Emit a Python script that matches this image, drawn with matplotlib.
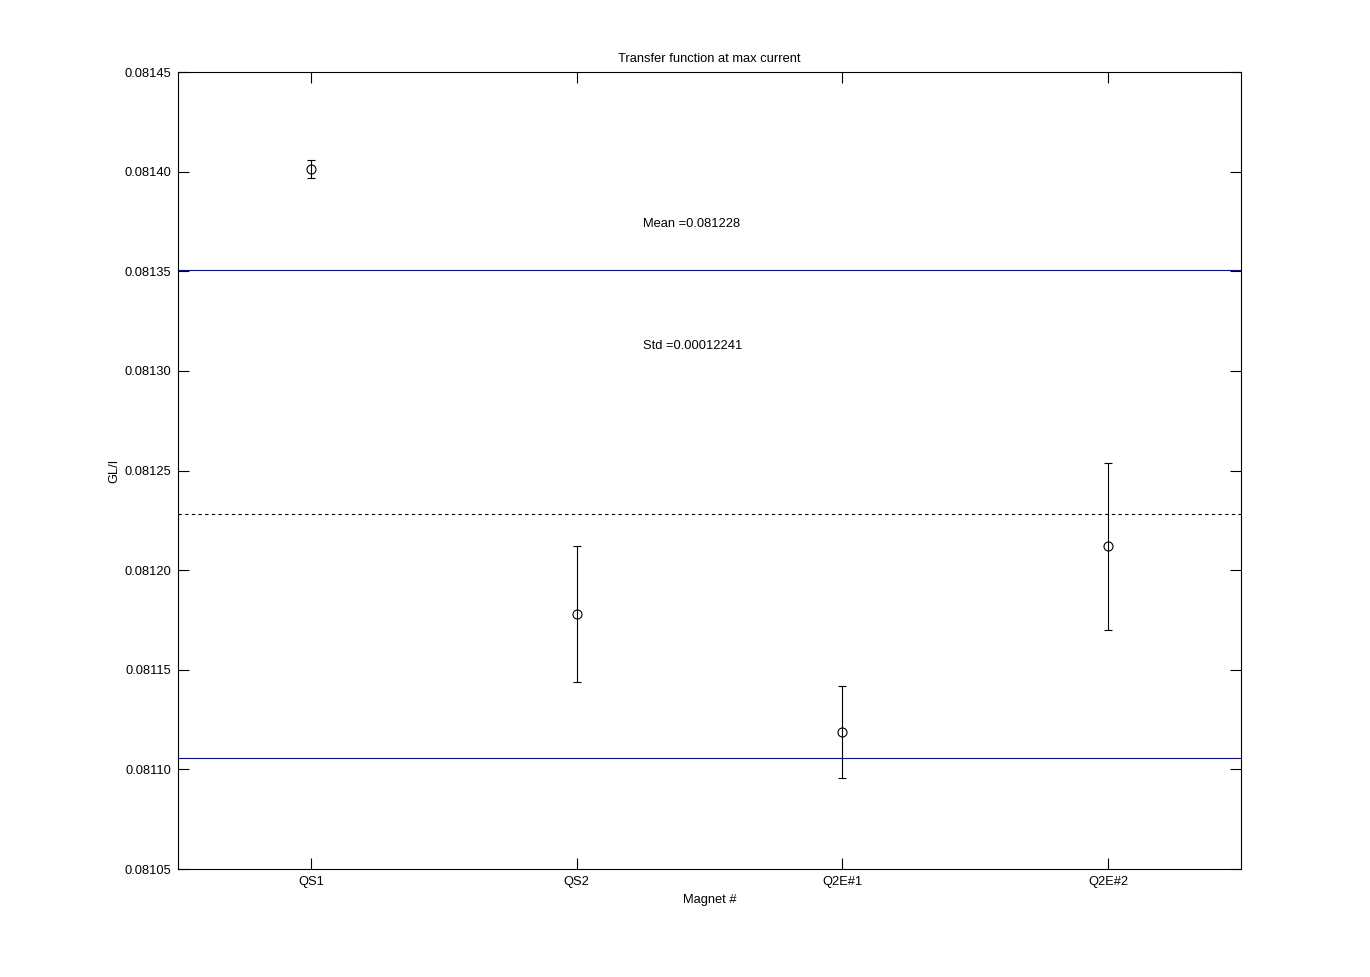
import numpy as np
from matplotlib import pyplot as plt

# Magnet data
magnets = ['QS1', 'QS2', 'Q2E#1', 'Q2E#2']
tf_values = [0.0814013, 0.0811780, 0.0811188, 0.0812121]
tf_errors = [0.0000043, 0.0000340, 0.0000233, 0.0000419]

mean_tf = 0.081228
std_tf = 0.00012241

plt.rcParams['font.family'] = ['Liberation Sans', 'DejaVu Sans']

fig = plt.figure(dpi=100, figsize=(13.7, 9.77))
ax = fig.add_axes([0.13, 0.1105, 0.7758, 0.8158])

x = np.arange(1, len(magnets) + 1)
ax.errorbar(x, tf_values, yerr=tf_errors, fmt='o', color='black', mfc='none',
            markersize=6.5, elinewidth=0.8, capsize=3, capthick=0.8, mew=0.8)

ax.axhline(mean_tf, color='black', linestyle=(0, (3, 3)), linewidth=0.8)
ax.axhline(mean_tf + std_tf, color='#0000dd', linewidth=0.8)
ax.axhline(mean_tf - std_tf, color='#0000dd', linewidth=0.8)

ax.text(2.25, 0.0813735, 'Mean =' + str(mean_tf), fontsize=9.3, va='center')
ax.text(2.25, 0.0813123, 'Std =' + str(std_tf), fontsize=9.3, va='center')

# Format plot
ax.set_xlim(0.5, 4.5)
ax.set_ylim(0.08105, 0.08145)
ax.set_xticks(x)
ax.set_xticklabels(magnets)
ax.set_yticks(np.arange(0.08105, 0.081451, 0.00005))
ax.set_yticklabels(['%.5f' % v for v in np.arange(0.08105, 0.081451, 0.00005)])
ax.tick_params(axis='both', direction='in', length=8, width=0.8, labelsize=9.3,
               top=True, right=True, pad=5)
for s in ax.spines.values():
    s.set_linewidth(0.8)

ax.set_title('Transfer function at max current', fontsize=9.3, pad=7)
ax.set_xlabel('Magnet #', fontsize=9.3, labelpad=4)
ax.set_ylabel('GL/I', fontsize=9.3, labelpad=3)

plt.savefig('out.png', dpi=100)
